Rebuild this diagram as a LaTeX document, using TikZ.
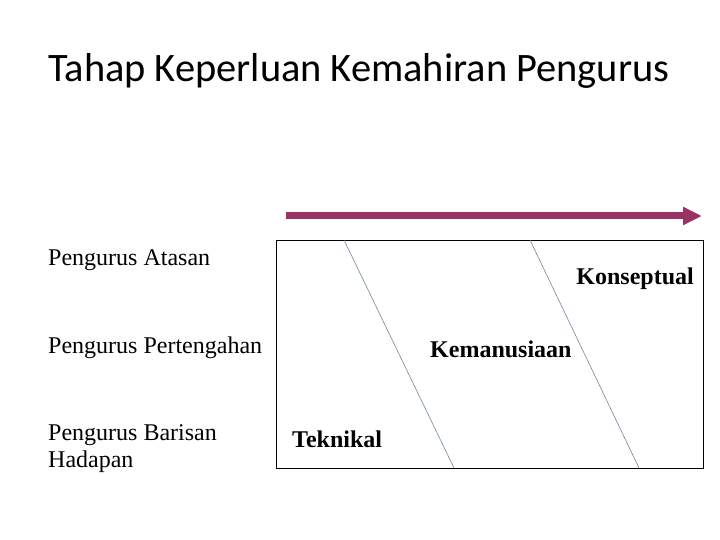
\documentclass[tikz,border=0pt]{standalone}
\usepackage{fontspec}
\usetikzlibrary{arrows.meta}
\setmainfont{Liberation Serif}
\newfontfamily\titlefont{Carlito}
\definecolor{plum}{RGB}{153,51,102}
\definecolor{divgray}{RGB}{110,135,155}
\begin{document}
\begin{tikzpicture}
  [x=1bp,y=-1bp,every node/.style={inner sep=0pt},
   level/.style={anchor=base west,font=\fontsize{24bp}{27bp}\selectfont,align=left},
   skill/.style={anchor=base west,font=\fontsize{24bp}{27bp}\selectfont\bfseries},
   divider/.style={divgray,line width=0.6bp}]
\useasboundingbox (0,0) rectangle (720,540);
\node (title)[anchor=base west,font=\titlefont\fontsize{40.4bp}{48bp}\selectfont] at (48,82) {Tahap Keperluan Kemahiran Pengurus};

\coordinate (arrS) at (286,216);
\coordinate (arrE) at (702,216);
\draw[plum,line width=7bp,-{Triangle[length=19bp,width=17bp]}] (arrS) -- (arrE);

\node (box)[draw,line width=1bp,minimum width=427bp,minimum height=228bp,anchor=north west] at (276,240) {};
\coordinate (d1t) at (344,240);
\coordinate (d1b) at (454,468);
\coordinate (d2t) at (530,240);
\coordinate (d2b) at (639,468);
 \foreach \from/\to in {d1t/d1b,d2t/d2b}
    \draw[divider] (\from) -- (\to);

\node (atasan)[level] at (48,266) {Pengurus Atasan};
\node (tengah)[level] at (48,353) {Pengurus Pertengahan};
\node (barisan)[level] at (48,467) {Pengurus Barisan\\Hadapan};

\node (konsep)[skill,anchor=base east] at (694,285) {Konseptual};
\node (manusia)[skill] at (430,357) {Kemanusiaan};
\node (teknik)[skill] at (292,447) {Teknikal};
\end{tikzpicture}
\end{document}
